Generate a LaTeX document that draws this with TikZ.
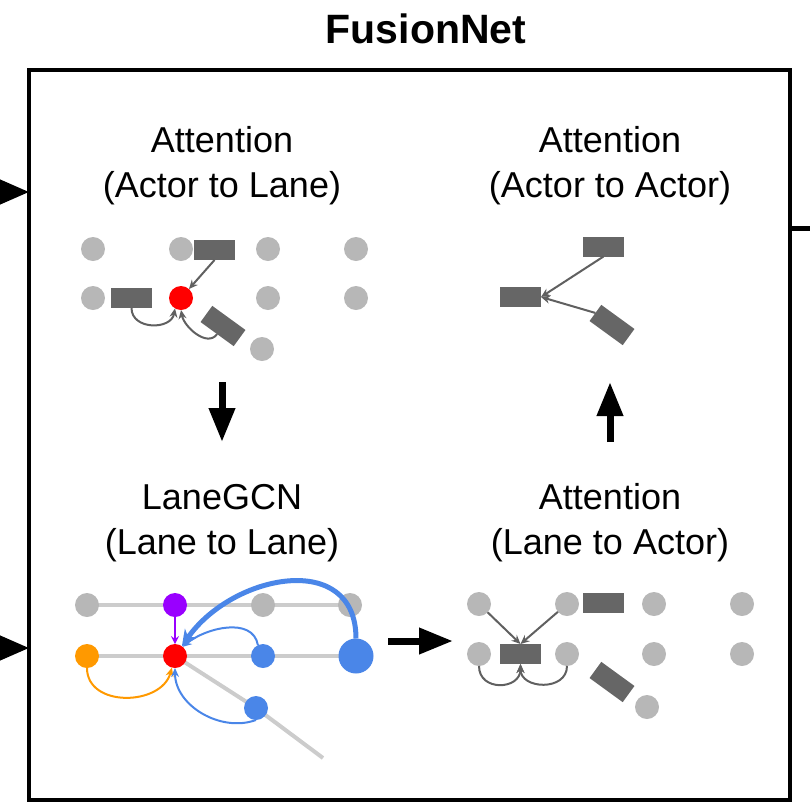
\documentclass[tikz,border=0pt]{standalone}
\usepackage{fontspec}
\setmainfont{Liberation Sans}
\usetikzlibrary{arrows.meta,backgrounds}
\definecolor{dotgray}{HTML}{B7B7B7}
\definecolor{rectgray}{HTML}{666666}
\definecolor{arrgray}{HTML}{606060}
\definecolor{lanegray}{HTML}{CCCCCC}
\definecolor{mypurple}{HTML}{9900FF}
\definecolor{myorange}{HTML}{FF9900}
\definecolor{myblue}{HTML}{4A86E8}
\begin{document}
\begin{tikzpicture}[x=1pt,y=1pt,
 dot/.style={circle,fill=dotgray,minimum size=24pt,inner sep=0,outer sep=0},
 agent/.style={rectangle,fill=rectgray,minimum width=41pt,minimum height=20pt,inner sep=0,outer sep=0},
 smalltip/.style={-{Stealth[length=9pt,width=8pt,inset=3pt]}},
 garrow/.style={draw=arrgray,line width=2pt,smalltip},
 bigarrow/.style={line width=7pt,-{Triangle[length=34pt,width=25pt]}},
 lane/.style={draw=lanegray,line width=4pt},
 txtlbl/.style={align=center,font=\fontsize{36}{45}\selectfont,inner sep=0}
]
\useasboundingbox (0,0) rectangle (810,-812);

% title and frame
\node[font=\bfseries\fontsize{41}{46}\selectfont,inner sep=0] (title) at (426,-29) {FusionNet};
\node[draw,line width=4pt,minimum width=761pt,minimum height=730pt,inner sep=0,outer sep=0] (frame) at (409.5,-435) {};

% inputs / output
\coordinate (in1) at (0,-192);
\coordinate (in2) at (0,-648);
\coordinate (out1) at (810,-228);
\draw[line width=4pt,-{Triangle[length=30pt,width=25pt]}] (in1) -- (in1 -| frame.west);
\draw[line width=4pt,-{Triangle[length=30pt,width=25pt]}] (in2) -- (in2 -| frame.west);
\draw[line width=5pt] (out1 -| frame.east) -- (out1);

% labels
\node[txtlbl] (l1) at (222,-166) {Attention\\(Actor to Lane)};
\node[txtlbl] (l2) at (610,-166) {Attention\\(Actor to Actor)};
\node[txtlbl] (l3) at (222,-523) {LaneGCN\\(Lane to Lane)};
\node[txtlbl] (l4) at (610,-523) {Attention\\(Lane to Actor)};

% big arrows
\coordinate (d1) at (222,-382); \coordinate (d2) at (222,-442);
\coordinate (u1) at (610,-442); \coordinate (u2) at (610,-382);
\coordinate (r1) at (388,-641); \coordinate (r2) at (453,-641);
\draw[bigarrow] (d1) -- (d2);
\draw[bigarrow] (u1) -- (u2);
\draw[bigarrow] (r1) -- (r2);

% ---------- top-left: actor to lane ----------
\node[dot] (a1) at (93,-249) {};
\node[dot] (a2) at (181,-249) {};
\node[dot] (a3) at (268,-249) {};
\node[dot] (a4) at (356,-249) {};
\node[dot] (a5) at (93,-298) {};
\node[dot] (a6) at (268,-298) {};
\node[dot] (a7) at (356,-298) {};
\node[dot] (a8) at (262,-349) {};
\node[dot,fill=red] (ared) at (181,-298) {};
\node[agent] (ar1) at (214.5,-250) {};
\node[agent] (ar2) at (131.5,-298) {};
\node[agent,rotate=-36] (ar3) at (223,-326) {};
\draw[garrow] (ar1.south) -- (ared);
\draw[garrow] (ar2.south) to[out=-90,in=-100,looseness=1.3] (ared.-120);
\draw[garrow] (ar3.south) to[out=-126,in=-80] (ared.-90);

% ---------- top-right: actor to actor ----------
\node[agent] (tr1) at (603.5,-246.5) {};
\node[agent] (tr2) at (520.5,-297) {};
\node[agent,rotate=-36] (tr3) at (612,-325) {};
\draw[garrow] (tr1.south) -- (tr2.east);
\draw[garrow] (tr3.west) -- (tr2.east);

% ---------- bottom-left: lane to lane ----------
\node[dot] (c1) at (87,-605) {};
\node[dot,fill=mypurple] (cpur) at (175,-605) {};
\node[dot] (c3) at (263,-605) {};
\node[dot] (c4) at (350,-605) {};
\node[dot,fill=myorange] (cor) at (87,-656) {};
\node[dot,fill=red] (cred) at (175,-656) {};
\node[dot,fill=myblue] (cb1) at (263,-656) {};
\node[dot,fill=myblue,minimum size=35pt] (cbig) at (356,-656) {};
\node[dot,fill=myblue] (cb2) at (256,-708) {};
\coordinate (cend) at (323,-758);
\begin{scope}[on background layer]
\draw[lane] (c1.center) -- (c4.center);
\draw[lane] (cor.center) -- (cbig.center);
\draw[lane] (cred.center) -- (cb2.center) -- (cend);
\end{scope}
\draw[draw=mypurple,line width=2pt,-{Stealth[length=8pt,width=8pt,inset=3pt]}] (cpur) -- (cred);
\draw[draw=myorange,line width=2pt,smalltip] (cor.south) to[out=-90,in=-105,looseness=1.2] (cred.-105);
\draw[draw=myblue,line width=2pt,smalltip] (cb2.south) to[out=-160,in=-90] (cred.-90);
\draw[draw=myblue,line width=2pt,smalltip] (cb1.115) to[out=100,in=40] (cred.50);
\draw[draw=myblue,line width=5pt,-{Stealth[length=16pt,width=15pt,inset=5pt]}] (cbig.north) to[out=90,in=55,looseness=1.3] (cred.55);

% ---------- bottom-right: lane to actor ----------
\node[dot] (e1) at (479,-604) {};
\node[dot] (e2) at (567,-604) {};
\node[dot] (e3) at (654,-604) {};
\node[dot] (e4) at (742,-604) {};
\node[dot] (e5) at (479,-654) {};
\node[dot] (e6) at (567,-654) {};
\node[dot] (e7) at (654,-654) {};
\node[dot] (e8) at (742,-654) {};
\node[dot] (e9) at (647,-707) {};
\node[agent] (er1) at (603.5,-603) {};
\node[agent] (er2) at (520.5,-654) {};
\node[agent,rotate=-36] (er3) at (612,-682) {};
\draw[garrow] (e1) -- (er2.north);
\draw[garrow] (e2) -- (er2.north);
\draw[garrow] (e5.south) to[out=-90,in=-90,looseness=1.6] (er2.south);
\draw[garrow] (e6.south) to[out=-90,in=-90,looseness=1.4] (er2.south);
\end{tikzpicture}
\end{document}
